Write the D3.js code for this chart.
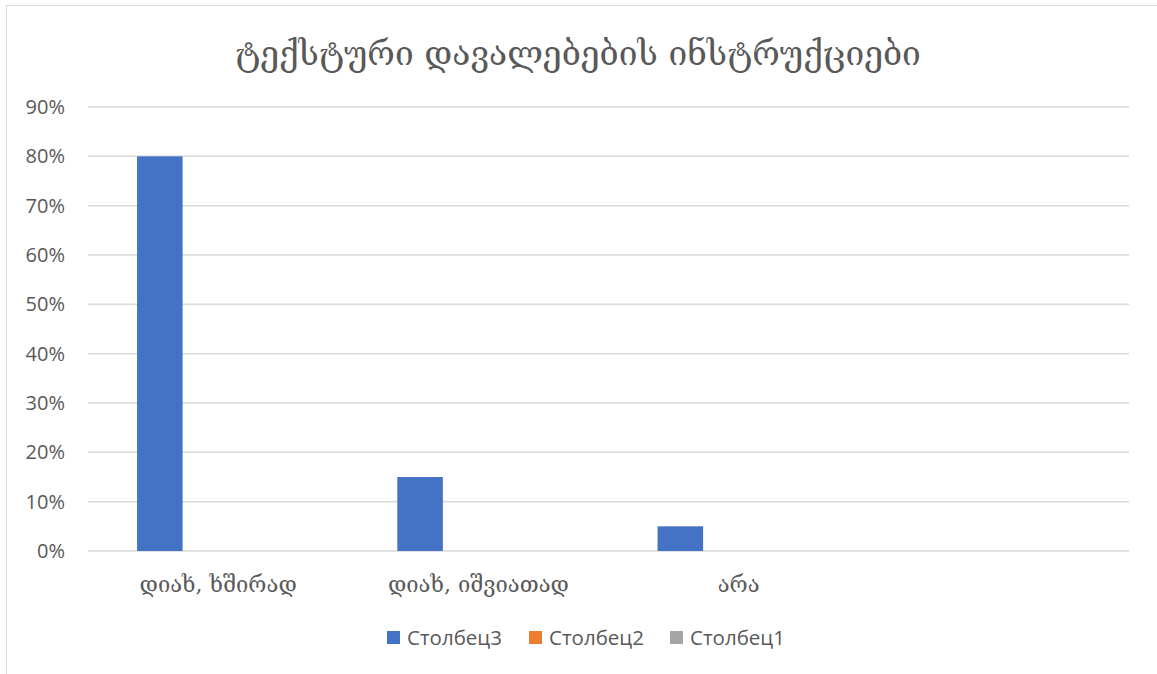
<!DOCTYPE html>
<html>
<head>
<meta charset="utf-8">
<script src="https://cdn.jsdelivr.net/npm/d3@7"></script>
<style>
  html, body { margin: 0; padding: 0; background: #fff; }
  svg { display: block; }
</style>
</head>
<body>
<svg id="chart" width="1157" height="674"></svg>
<script>
const title = "ტექსტური დავალებების ინსტრუქციები";
const categories = ["დიახ, ხშირად", "დიახ, იშვიათად", "არა", ""];
const seriesNames = ["Столбец3", "Столбец2", "Столбец1"];
const seriesColors = ["#4472C4", "#ED7D31", "#A5A5A5"];
const stolbec3 = [0.80, 0.15, 0.05, null];
const stolbec2 = [null, null, null, null];
const stolbec1 = [null, null, null, null];
const yTicks = [0, 0.1, 0.2, 0.3, 0.4, 0.5, 0.6, 0.7, 0.8, 0.9];

const seriesValues = [stolbec3, stolbec2, stolbec1];
const svg = d3.select("#chart");
const W = 1157, H = 674;
const geoFont = "'DejaVu Serif', serif";
const latFont = "'Open Sans', 'DejaVu Sans', sans-serif";

// chart border
svg.append("rect").attr("x", 6.5).attr("y", 5.5).attr("width", W + 10).attr("height", H + 10)
  .attr("fill", "#fff").attr("stroke", "#d9d9d9").attr("stroke-width", 1);

const plot = { left: 88, right: 1129, top: 107, bottom: 551 };

const x0 = d3.scaleBand().domain(categories.map((d, i) => i)).range([plot.left, plot.right]).padding(0);
const x1 = d3.scaleBand().domain(seriesNames)
  .range([x0.bandwidth() * 0.1885, x0.bandwidth() * (0.1885 + 0.175 * 3)]).padding(0);
const y = d3.scaleLinear().domain([0, 0.9]).range([plot.bottom, plot.top]);

// gridlines
svg.append("g").selectAll("line").data(yTicks).join("line")
  .attr("x1", plot.left).attr("x2", plot.right)
  .attr("y1", d => y(d)).attr("y2", d => y(d))
  .attr("stroke", "#d9d9d9").attr("stroke-width", 1.5);

// y axis labels
const yAxis = d3.axisLeft(y).tickValues(yTicks).tickFormat(d3.format(".0%")).tickSize(0).tickPadding(0);
const yg = svg.append("g").attr("transform", `translate(65,0)`).call(yAxis);
yg.select(".domain").remove();
yg.selectAll("text").attr("font-family", latFont).attr("font-size", 20).attr("fill", "#595959");

// bars
seriesNames.forEach((s, si) => {
  svg.append("g").selectAll("rect")
    .data(seriesValues[si].map((v, i) => ({ i, v })).filter(d => d.v != null))
    .join("rect")
    .attr("x", d => x0(d.i) + x1(s))
    .attr("width", x1.bandwidth())
    .attr("y", d => y(d.v))
    .attr("height", d => y(0) - y(d.v))
    .attr("fill", seriesColors[si]);
});

// x axis labels
const xAxis = d3.axisBottom(x0).tickFormat(i => categories[i]).tickSize(0).tickPadding(0);
const xg = svg.append("g").attr("transform", `translate(0,${plot.bottom + 25})`).call(xAxis);
xg.select(".domain").remove();
xg.selectAll("text").attr("font-family", geoFont).attr("font-size", 22).attr("fill", "#595959");

// title
svg.append("text").attr("x", 578).attr("y", 65).attr("text-anchor", "middle")
  .attr("font-family", geoFont).attr("font-size", 33.5).attr("fill", "#595959").text(title);

// legend
const legendX = [387, 529, 670];
const lg = svg.append("g");
seriesNames.forEach((s, i) => {
  lg.append("rect").attr("x", legendX[i]).attr("y", 631).attr("width", 13).attr("height", 13).attr("fill", seriesColors[i]);
  lg.append("text").attr("x", legendX[i] + 20).attr("y", 644.5).attr("font-family", latFont)
    .attr("font-size", 20.5).attr("fill", "#595959").text(s);
});
</script>
</body>
</html>
